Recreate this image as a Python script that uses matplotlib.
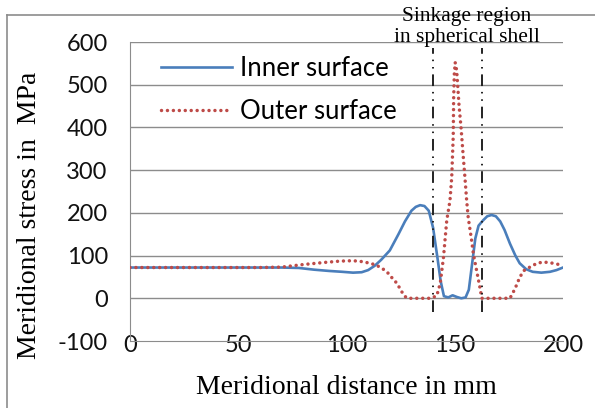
import matplotlib.pyplot as plt
from matplotlib.lines import Line2D

plt.rcParams['axes.unicode_minus'] = False

# meridional distance (mm) and stress (MPa)
inner_x = [0, 10, 20, 30, 40, 50, 60, 70, 78, 85, 92, 98, 103, 107, 110, 113, 116, 120,
           124, 127, 130, 132, 134, 136, 138, 140, 142, 143.5, 145, 147, 149, 151, 153,
           155, 156.5, 158, 159.5, 161, 163, 165, 167, 169, 171, 173, 175.5, 178, 180,
           183, 186, 190, 194, 197, 200]
inner_y = [72, 72, 72, 72, 72, 72, 72, 72, 71, 67, 64, 62, 60, 61, 66, 76, 90, 112,
           150, 180, 205, 214, 218, 216, 205, 165, 95, 40, 5, 2, 7, 3, 0,
           2, 20, 80, 140, 170, 182, 192, 195, 192, 180, 160, 128, 100, 82,
           68, 62, 60, 62, 66, 72]

outer_x = [0, 10, 20, 30, 40, 50, 60, 70, 75, 80, 90, 97, 103, 107, 111, 114, 117, 119,
           121, 123.3, 125, 126.5, 128, 135, 139, 141.7, 143.3, 144.8, 146.3, 147.8,
           148.6, 149.3, 149.5, 149.8, 150.2, 150.9, 152, 152.9, 153.8, 154.7, 155.5,
           156.2, 157.8, 158.6, 160.1, 161.6, 162.5, 170, 175.5, 177.8, 180.1, 182,
           184.7, 188, 191, 195.5, 200]
outer_y = [72, 72, 72, 72, 72, 72, 72, 73, 76, 79, 84, 87, 88, 86, 82, 77, 68, 60,
           48, 35, 20, 7, 0, 0, 0, 6, 35, 96, 182, 229,
           283, 380, 470, 525, 552, 533, 450, 400, 340, 283, 229,
           190, 135, 104, 65, 26, 0, 0, 0, 22, 50, 65,
           73, 82, 85, 82, 77]

sinkage_x = [140, 162.5]
yticks = [-100, 0, 100, 200, 300, 400, 500, 600]
xticks = [0, 50, 100, 150, 200]

fig = plt.figure(figsize=(5.95, 4.08), dpi=100)
ax = fig.add_axes([130 / 595, 1 - 341 / 408, 433 / 595, 299 / 408])

grid_col = '#8c8c8c'
for v in yticks[1:]:
    ax.axhline(v, color=grid_col, lw=1.0, zorder=1)

ax.plot(inner_x, inner_y, color='#4a7ebb', lw=1.9, label='Inner surface', zorder=3)
ax.plot(outer_x, outer_y, color='#be4b48', lw=2.5, linestyle=(0, (0.01, 1.7)),
        dash_capstyle='round', label='Outer surface', zorder=3)

for xv in sinkage_x:
    ax.plot([xv, xv], [-33, 587], color='#222222', lw=1.4,
            dashes=(6, 3, 0.8, 3, 0.8, 3), zorder=4, clip_on=False)

ax.set_xlim(0, 200)
ax.set_ylim(-100, 600)
ax.set_xticks(xticks)
ax.set_yticks(yticks)
for s in ['top', 'right']:
    ax.spines[s].set_visible(False)
ax.spines['left'].set_color(grid_col)
ax.spines['bottom'].set_color(grid_col)
ax.tick_params(length=0, labelsize=17, labelcolor='#111111')
ax.tick_params(axis='x', pad=-4)
ax.tick_params(axis='y', pad=16)
for lab in ax.get_xticklabels() + ax.get_yticklabels():
    lab.set_family('Lato')
for lab in ax.get_xticklabels():
    lab.set_zorder(5)

ax.set_xlabel('Meridional distance in mm', family='Liberation Serif', fontsize=20, labelpad=13)
ax.set_ylabel('Meridional stress in  MPa', family='Liberation Serif', fontsize=20)
ax.yaxis.set_label_coords(-88 / 433, 0.42)

leg = ax.legend(loc='upper left', bbox_to_anchor=(0.042, 0.995), frameon=False,
                prop={'family': 'Lato', 'size': 18.5}, handlelength=2.75,
                handletextpad=0.33, labelspacing=0.68, borderpad=0)

fig.text(467 / 595, 1 - 27 / 408, 'Sinkage region\nin spherical shell', ha='center',
         va='center', family='Liberation Serif', fontsize=15.5, linespacing=1.2)

# outer chart frame
fig.add_artist(Line2D([7 / 595, 7 / 595], [0, 1 - 15 / 408], color='#8c8c8c', lw=1.2))
fig.add_artist(Line2D([7 / 595, 1], [1 - 15 / 408, 1 - 15 / 408], color='#8c8c8c', lw=1.2))

fig.savefig('out.png', dpi=100)
